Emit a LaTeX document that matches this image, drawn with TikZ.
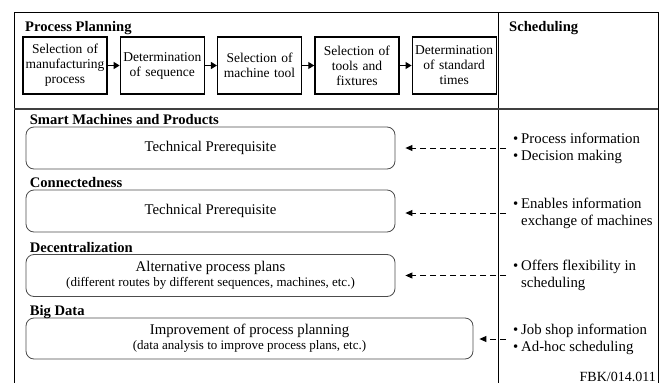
\documentclass[tikz,border=0pt]{standalone}
\usepackage{fontspec}
\setmainfont{Liberation Serif}
\usepackage{tikz}
\usetikzlibrary{
  arrows.meta,
  positioning
}
\newcommand{\bul}{\makebox[8pt][l]{\textbullet}}
\newcommand{\ind}{\hspace*{8pt}}

\begin{document}
\begin{tikzpicture}[
  x=1pt, y=-1pt,
  node distance=12pt,
  stepbox/.style={draw, line width=1.3pt, minimum width=84pt, minimum height=57pt, text width=82pt, inner sep=1pt, align=center, font=\fontsize{13.5}{15}\selectfont},
  featbox/.style={draw=black!70, rounded corners=8pt, line width=0.8pt, minimum height=42pt, align=center, font=\fontsize{14.8}{15}\selectfont},
  tag/.style={font=\fontsize{14.6}{16}\selectfont\bfseries, inner sep=0pt, anchor=base west},
  note/.style={align=left, anchor=west, inner sep=2pt, font=\fontsize{14.8}{17}\selectfont},
  arr/.style={-{Triangle[length=6pt,width=7pt]}, line width=1.2pt},
  dasharr/.style={-{Triangle[length=7pt,width=6pt]}, line width=0.9pt, dash pattern=on 6pt off 4pt, shorten <=5pt, shorten >=10pt}
]
\useasboundingbox (0,0) rectangle (667,383);

% Frame and column dividers
\draw[line width=1pt] (14,383) -- (14,12) -- (658,12) -- (658,383);
\draw[line width=1pt] (498,12) -- (498,383);
\draw[line width=1.2pt, black!75] (14,109) -- (658,109);

% Top: process planning chain
\node[tag] (pp) at (25,31) {Process Planning};
\node[tag] (sched) at (509,31) {Scheduling};

\node[stepbox] (s1) at (65,65.5) {Selection of\\manufacturing\\process};
\node[stepbox, right=of s1] (s2) {Determination\\of sequence};
\node[stepbox, right=of s2] (s3) {Selection of\\machine tool};
\node[stepbox, right=of s3] (s4) {Selection of\\tools and\\fixtures};
\node[stepbox, right=of s4] (s5) {Determination\\of standard\\times};

\draw[arr] (s1) -- (s2);
\draw[arr] (s2) -- (s3);
\draw[arr] (s3) -- (s4);
\draw[arr] (s4) -- (s5);

% Industry 4.0 features
\node[featbox, minimum width=369pt] (smart) at (210.5,148) {Technical Prerequisite};
\node[tag] at ([xshift=4pt, yshift=2pt]smart.north west) {Smart Machines and Products};

\node[featbox, minimum width=369pt] (conn) at (210.5,211) {Technical Prerequisite};
\node[tag] at ([xshift=4pt, yshift=2pt]conn.north west) {Connectedness};

\node[featbox, minimum width=369pt] (decen) at (210.5,275.5) {Alternative process plans\\
{\fontsize{13}{14}\selectfont (different routes by different sequences, machines, etc.)}};
\node[tag] at ([xshift=4pt, yshift=2pt]decen.north west) {Decentralization};

\node[featbox, minimum width=447pt, minimum height=41pt] (bigd) at (249.5,338.5) {Improvement of process planning\\
{\fontsize{13}{14}\selectfont (data analysis to improve process plans, etc.)}};
\node[tag] at ([xshift=4pt, yshift=2pt]bigd.north west) {Big Data};

% Scheduling notes
\node[note] (n1) at (511,148) {\bul Process information\\\bul Decision making};
\node[note] (n2) at (511,213) {\bul Enables information\\\ind exchange of machines};
\node[note] (n3) at (511,275.5) {\bul Offers flexibility in\\\ind scheduling};
\node[note] (n4) at (511,339) {\bul Job shop information\\\bul Ad-hoc scheduling};

\draw[dasharr] (n1.west) -- (n1.west -| smart.east);
\draw[dasharr] (n2.west) -- (n2.west -| conn.east);
\draw[dasharr] (n3.west) -- (n3.west -| decen.east);
\draw[dasharr, shorten >=6pt] (n4.west) -- (n4.west -| bigd.east);

\node[anchor=base east, inner sep=0pt, font=\fontsize{14}{16}\selectfont] (code) at (656,381) {FBK/014.011};

\end{tikzpicture}
\end{document}
